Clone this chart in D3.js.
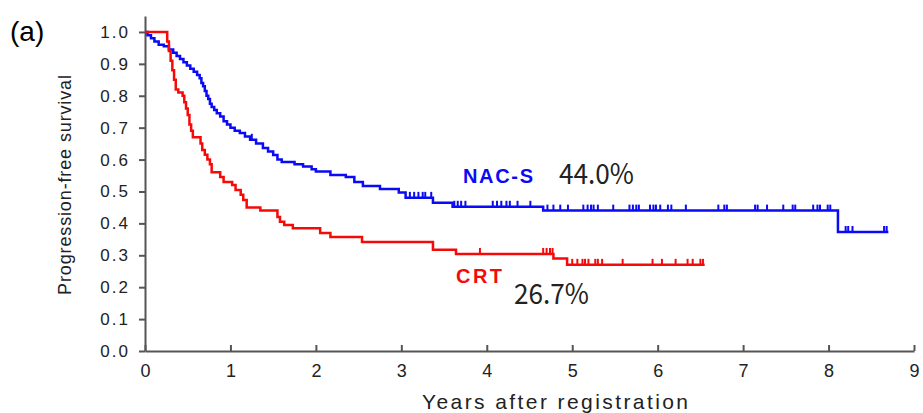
<!DOCTYPE html>
<html>
<head>
<meta charset="utf-8">
<title>Progression-free survival</title>
<style>
  html, body { margin: 0; padding: 0; background: #fff; }
  svg { display: block; }
  .tick text { font-family: "Liberation Sans", Arial, sans-serif; fill: #222; }
</style>
</head>
<body>
<main></main>
<script src="https://cdn.jsdelivr.net/npm/d3@7"></script>
<script>
// NAC-S curve: step times (years) and survival after each step
const nacsTimes = [0, 0.03, 0.07, 0.11, 0.16, 0.22, 0.28, 0.33, 0.37, 0.41, 0.45, 0.49, 0.53, 0.57, 0.61, 0.64,
  0.66, 0.68, 0.70, 0.72, 0.74, 0.76, 0.78, 0.81, 0.84, 0.88, 0.92, 0.96, 1.0, 1.05, 1.11, 1.17, 1.23, 1.30,
  1.38, 1.44, 1.50, 1.55, 1.60, 1.75, 1.85, 1.95, 2.0, 2.17, 2.35, 2.45, 2.55, 2.75, 2.97, 3.05, 3.37, 3.6,
  4.66, 8.11, 8.70];
const nacsSurv = [1.0, 0.99, 0.98, 0.97, 0.96, 0.955, 0.945, 0.935, 0.925, 0.915, 0.905, 0.895, 0.885, 0.875, 0.865, 0.855,
  0.84, 0.83, 0.815, 0.80, 0.79, 0.775, 0.765, 0.755, 0.745, 0.735, 0.72, 0.71, 0.70, 0.69, 0.683, 0.672, 0.662, 0.65,
  0.636, 0.625, 0.614, 0.60, 0.592, 0.585, 0.578, 0.57, 0.563, 0.552, 0.545, 0.53, 0.517, 0.508, 0.497, 0.48, 0.465, 0.452,
  0.44, 0.373, 0.373];
const nacsCensor = [1.25, 3.1, 3.15, 3.2, 3.25, 3.28, 3.35, 3.62, 3.66, 3.7, 3.75, 4.07, 4.12, 4.17, 4.23, 4.27, 4.36,
  4.51, 4.71, 4.78, 4.86, 4.95, 5.13, 5.18, 5.22, 5.25, 5.3, 5.48, 5.67, 5.71, 5.75, 5.78, 5.91, 5.95, 5.98, 6.03,
  6.12, 6.16, 6.33, 6.71, 6.78, 6.81, 7.14, 7.17, 7.28, 7.47, 7.58, 7.61, 7.82, 7.87, 7.9, 7.99, 8.02,
  8.2, 8.23, 8.28, 8.65, 8.68];

// CRT curve
const crtTimes = [0, 0.26, 0.28, 0.30, 0.32, 0.34, 0.36, 0.39, 0.44, 0.46, 0.48, 0.50, 0.52, 0.54, 0.56, 0.65, 0.67,
  0.70, 0.73, 0.76, 0.78, 0.88, 0.92, 1.02, 1.06, 1.12, 1.15, 1.19, 1.35, 1.55, 1.58, 1.63, 1.73, 2.05, 2.17,
  2.54, 3.37, 3.64, 4.78, 4.94, 6.55];
const crtSurv = [1.0, 0.97, 0.94, 0.91, 0.88, 0.85, 0.82, 0.81, 0.80, 0.78, 0.76, 0.74, 0.71, 0.69, 0.67, 0.65, 0.63,
  0.615, 0.60, 0.585, 0.56, 0.545, 0.53, 0.52, 0.505, 0.49, 0.473, 0.45, 0.44, 0.42, 0.405, 0.395, 0.385, 0.37, 0.357,
  0.342, 0.317, 0.304, 0.29, 0.27, 0.27];
const crtCensor = [3.92, 4.66, 4.7, 4.74, 4.77, 5.0, 5.06, 5.12, 5.15, 5.19, 5.27, 5.3, 5.35, 5.59, 5.94, 6.05,
  6.21, 6.35, 6.41, 6.5, 6.53];

const xTicks = [0, 1, 2, 3, 4, 5, 6, 7, 8, 9];
const yTicks = [0, 0.1, 0.2, 0.3, 0.4, 0.5, 0.6, 0.7, 0.8, 0.9, 1.0];

const width = 923, height = 413;

const svg = d3.select("main").append("svg")
  .attr("width", width)
  .attr("height", height);

const x = d3.scaleLinear().domain([0, 9]).range([145, 914]);
const y = d3.scaleLinear().domain([0, 1.05]).range([351, 16]);

// axes
const xAxis = svg.append("g")
  .attr("transform", `translate(0,${y(0)})`)
  .call(d3.axisBottom(x).tickValues(xTicks).tickFormat(d3.format("d"))
    .tickSizeInner(-6).tickSizeOuter(0).tickPadding(13));
xAxis.selectAll("text").style("font-size", "18px");

const yAxis = svg.append("g")
  .attr("transform", `translate(${x(0)},0)`)
  .call(d3.axisLeft(y).tickValues(yTicks).tickFormat(d3.format(".1f"))
    .tickSizeInner(6).tickSizeOuter(0).tickPadding(9));
yAxis.selectAll("text").style("font-size", "17px").attr("letter-spacing", "2px");

svg.selectAll(".domain, .tick line").attr("stroke", "#555").attr("stroke-width", 2);

// curves
const line = d3.line()
  .x(d => x(d[0]))
  .y(d => y(d[1]))
  .curve(d3.curveStepAfter);

function survAt(times, surv, t) {
  const i = d3.bisectRight(times, t) - 1;
  return surv[Math.max(0, i)];
}

function drawCurve(times, surv, censor, color) {
  svg.append("path")
    .datum(d3.zip(times, surv))
    .attr("fill", "none")
    .attr("stroke", color)
    .attr("stroke-width", 2.5)
    .attr("d", line);
  svg.append("g").selectAll("line")
    .data(censor)
    .join("line")
      .attr("x1", d => x(d)).attr("x2", d => x(d))
      .attr("y1", d => y(survAt(times, surv, d)))
      .attr("y2", d => y(survAt(times, surv, d)) - 6)
      .attr("stroke", color)
      .attr("stroke-width", 2);
}

drawCurve(nacsTimes, nacsSurv, nacsCensor, "#0a0af5");
drawCurve(crtTimes, crtSurv, crtCensor, "#f50a0a");

// labels
svg.append("text")
  .attr("x", 10).attr("y", 41)
  .style("font", "28px 'Liberation Sans', Arial, sans-serif")
  .text("(a)");

svg.append("text")
  .attr("transform", "translate(71,185) rotate(-90)")
  .attr("text-anchor", "middle")
  .attr("textLength", 220).attr("lengthAdjust", "spacing")
  .style("font", "18px 'Liberation Sans', Arial, sans-serif")
  .attr("fill", "#222")
  .text("Progression-free survival");

svg.append("text")
  .attr("x", 555).attr("y", 409)
  .attr("text-anchor", "middle")
  .attr("textLength", 266).attr("lengthAdjust", "spacing")
  .style("font", "21px 'Liberation Sans', Arial, sans-serif")
  .attr("fill", "#222")
  .text("Years after registration");

svg.append("text")
  .attr("x", 463).attr("y", 183)
  .attr("textLength", 70).attr("lengthAdjust", "spacing")
  .style("font", "bold 20px 'Liberation Sans', Arial, sans-serif")
  .attr("fill", "#0a0af5")
  .text("NAC-S");

svg.append("text")
  .attr("x", 456).attr("y", 283)
  .attr("textLength", 46).attr("lengthAdjust", "spacing")
  .style("font", "bold 20px 'Liberation Sans', Arial, sans-serif")
  .attr("fill", "#f50a0a")
  .text("CRT");

svg.append("text")
  .attr("x", 559).attr("y", 184)
  .attr("textLength", 75).attr("lengthAdjust", "spacingAndGlyphs")
  .style("font", "28px 'Noto Sans CJK JP', 'Noto Sans', sans-serif")
  .attr("fill", "#222")
  .text("44.0%");

svg.append("text")
  .attr("x", 514).attr("y", 304)
  .attr("textLength", 75).attr("lengthAdjust", "spacingAndGlyphs")
  .style("font", "28px 'Noto Sans CJK JP', 'Noto Sans', sans-serif")
  .attr("fill", "#222")
  .text("26.7%");
</script>
</body>
</html>
